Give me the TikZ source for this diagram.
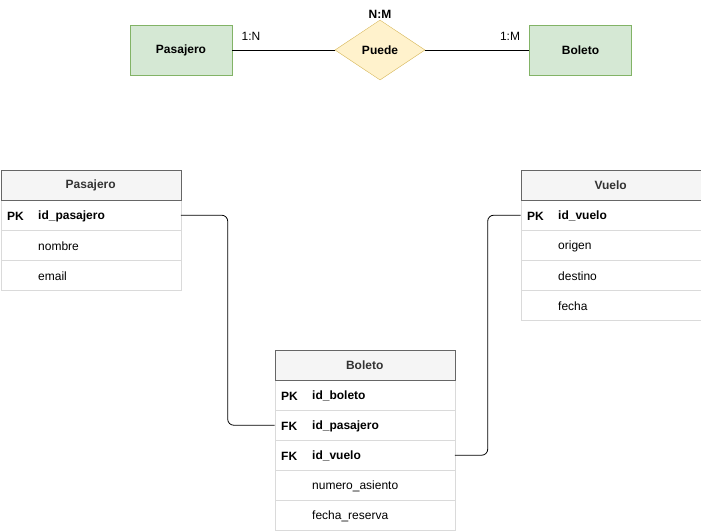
\documentclass[tikz,border=0pt]{standalone}
\usepackage{fontspec}
\setmainfont{Liberation Sans}
\usetikzlibrary{shapes.geometric,calc}
\definecolor{entfill}{HTML}{D5E8D4}
\definecolor{entdraw}{HTML}{82B366}
\definecolor{relfill}{HTML}{FFF2CC}
\definecolor{reldraw}{HTML}{D6B656}
\definecolor{hdrfill}{HTML}{F5F5F5}
\definecolor{tbldraw}{HTML}{666666}
\definecolor{sepdraw}{HTML}{DADADA}
\definecolor{hdrtext}{HTML}{333333}
\tikzset{
  every node/.style={font=\fontsize{12}{14}\selectfont},
  entity/.style={draw=entdraw, fill=entfill, minimum width=102pt, minimum height=50pt, inner sep=0pt, font=\fontsize{12}{14}\selectfont\bfseries},
  rel/.style={diamond, draw=reldraw, fill=relfill, minimum width=90pt, minimum height=60pt, inner sep=0pt, font=\fontsize{12}{14}\selectfont\bfseries},
  lbl/.style={inner sep=0pt},
  hdr/.style={draw=tbldraw, fill=hdrfill, minimum width=180pt, minimum height=30pt, inner sep=0pt, anchor=north west, text=hdrtext, font=\fontsize{12}{14}\selectfont\bfseries},
  rowbox/.style={draw=sepdraw, fill=white, minimum width=180pt, minimum height=30pt, inner sep=0pt, anchor=north west},
  keytxt/.style={anchor=west, inner sep=0pt, font=\fontsize{12}{14}\selectfont\bfseries},
  fldb/.style={anchor=west, inner sep=0pt, font=\fontsize{12}{14}\selectfont\bfseries},
  fld/.style={anchor=west, inner sep=0pt},
  conn/.style={draw=black, line width=0.8pt, rounded corners=6pt}
}
\begin{document}
\begin{tikzpicture}[x=1pt,y=-1pt]
\useasboundingbox (0,0) rectangle (701,531);
% ER top
\node[entity] (pas) at (181,50) {Pasajero};
\node[rel] (puede) at (380,50) {Puede};
\node[entity] (bol) at (580.5,50) {Boleto};
\draw[line width=0.8pt] (pas.east) -- (puede.west);
\draw[line width=0.8pt] (puede.east) -- (bol.west);
\node[lbl] (l1) at (251,36) {1:N};
\node[lbl] (l2) at (510,36) {1:M};
\node[lbl, font=\fontsize{12}{14}\selectfont\bfseries] (l3) at (380,14) {N:M};

% Pasajero table
\node[rowbox] (p1) at (0.5,200) {};
\node[rowbox] (p2) at (0.5,230) {};
\node[rowbox] (p3) at (0.5,260) {};
\node[hdr] (ph) at (0.5,170) {Pasajero};
\node[keytxt] (p1k) at (7,216) {PK};
\node[fldb] (p1f) at (38,216) {id\_pasajero};
\node[fld] (p2f) at (38,246) {nombre};
\node[fld] (p3f) at (38,276) {email};

% Vuelo table
\node[rowbox] (v1) at (520.5,200) {};
\node[rowbox] (v2) at (520.5,230) {};
\node[rowbox] (v3) at (520.5,260) {};
\node[rowbox] (v4) at (520.5,290) {};
\node[hdr] (vh) at (520.5,170) {Vuelo};
\node[keytxt] (v1k) at (527,216) {PK};
\node[fldb] (v1f) at (558,216) {id\_vuelo};
\node[fld] (v2f) at (558,246) {origen};
\node[fld] (v3f) at (558,276) {destino};
\node[fld] (v4f) at (558,306) {fecha};

% Boleto table
\node[rowbox] (b1) at (274.5,380) {};
\node[rowbox] (b2) at (274.5,410) {};
\node[rowbox] (b3) at (274.5,440) {};
\node[rowbox] (b4) at (274.5,470) {};
\node[rowbox] (b5) at (274.5,500) {};
\node[hdr] (bh) at (274.5,350) {Boleto};
\node[keytxt] (b1k) at (281,396) {PK};
\node[fldb] (b1f) at (312,396) {id\_boleto};
\node[keytxt] (b2k) at (281,426) {FK};
\node[fldb] (b2f) at (312,426) {id\_pasajero};
\node[keytxt] (b3k) at (281,456) {FK};
\node[fldb] (b3f) at (312,456) {id\_vuelo};
\node[fld] (b4f) at (312,486) {numero\_asiento};
\node[fld] (b5f) at (312,516) {fecha\_reserva};

% connectors
\draw[conn] (p1.east) -| ($(p1.east)!0.5!(b2.west)$) |- (b2.west);
\draw[conn] (b3.east) -| ($(b3.east)!0.5!(v1.west)$) |- (v1.west);
\end{tikzpicture}
\end{document}
